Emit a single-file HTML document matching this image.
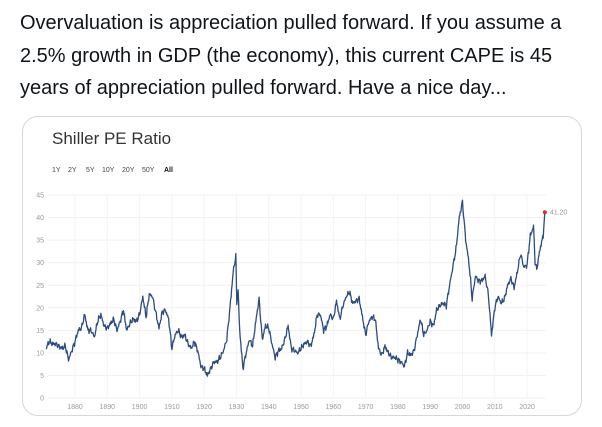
<!DOCTYPE html>
<html><head><meta charset="utf-8"><style>
body{margin:0;background:#fff;width:602px;height:427px;overflow:hidden;font-family:"Liberation Sans",sans-serif;position:relative}
.tw{position:absolute;left:20px;top:7px;width:560px;font-size:20px;line-height:32.5px;color:#0f1419}
.card{position:absolute;left:22px;top:116px;width:558px;height:298px;border:1px solid #cfd9de;border-radius:16px}
.t{position:absolute;left:52px;top:129px;font-size:17px;color:#333}
.b{position:absolute;top:167px;font-size:7px;color:#444}
svg{position:absolute;left:0;top:0}
</style></head><body>
<div class="tw">Overvaluation is appreciation pulled forward. If you assume a 2.5% growth in GDP (the economy), this current CAPE is 45 years of appreciation pulled forward. Have a nice day...</div>
<div class="card"></div>
<div class="t">Shiller PE Ratio</div>
<span class="b" style="left:52px">1Y</span><span class="b" style="left:68px">2Y</span><span class="b" style="left:86px">5Y</span><span class="b" style="left:102px">10Y</span><span class="b" style="left:122px">20Y</span><span class="b" style="left:142px">50Y</span><span class="b" style="left:164px;font-weight:bold;color:#111">All</span>
<svg id="s" width="602" height="427" font-family="Liberation Sans, sans-serif"></svg>
<script>
var d=[1871,11,1872,12.5,1873,12,1874,12,1875,11.5,1876,11,1877,11.5,1878,8.5,1879,10.5,1880,12.5,1881,15,1882,15.5,1883,18.5,1884,15,1885,15,1886,13.5,1887,17,1888,18.5,1889,16,1890,15.5,1891,16.5,1892,17.5,1893,15,1894,17,1895,19.5,1896,15,1897,16.5,1898,17.5,1899,17,1900,18.5,1901,22.5,1902,18,1903,23,1904,22.5,1905,19,1906,15.5,1907,19,1908,19.5,1909,17.5,1910,11,1911,14,1912,15,1913,13.5,1914,14,1915,12,1916,11,1917,12.5,1918,10.5,1919,7,1920,6.5,1921,5,1922,6.5,1923,8,1924,8,1925,9,1926,10.5,1927,13,1928,20,1929,28,1929.8,31.5,1930.1,21,1930.5,24,1931,15,1932,6.5,1933,10,1934,13,1935,11.5,1936,17,1937,22,1938,13,1939,16,1940,15.5,1941,12,1942,9,1943,10.5,1944,11,1945,13,1946,16,1947,11,1948,10.5,1949,10,1950,11,1951,12,1952,12.5,1953,11.5,1954,14,1955,18.5,1956,18.5,1957,15,1958,16,1959,18.5,1960,17.5,1961,21.5,1962,17.5,1963,20.5,1964,22.5,1965,23.5,1966,21,1967,21.5,1968,22,1969,18,1970,14,1971,17,1972,18,1973,17.5,1974,11,1975,9.5,1976,11.5,1977,10,1978,9,1979,9,1980,8.5,1981,8,1982,7,1983,10,1984,9.5,1985,10.5,1986,14,1987,17.5,1988,14,1989,15,1990,17,1991,16,1992,19.5,1993,20.5,1994,21,1995,20.5,1996,25,1997,29,1998,33,1999,40,2000,43.5,2001,35,2002,30,2003,22,2004,27,2005,26,2006,26,2007,27,2008,23,2009,14,2010,20,2011,22.5,2012,21,2013,22,2014,25,2015,26.5,2016,24.5,2017,28,2018,32,2019,29,2020,29.5,2021,36,2022,38,2022.5,30,2023,28.5,2024,33,2025,36,2025.5,41.2];
function X(y){return 75+(y-1880)*3.229}function Y(v){return 398-v*4.51}
var h='';
for(var v=0;v<=45;v+=5){h+='<line x1="48" x2="546" y1="'+Y(v)+'" y2="'+Y(v)+'" stroke="#f1f1f1"/><text x="44" y="'+(Y(v)+2.5)+'" font-size="7" fill="#999" text-anchor="end">'+v+'</text>';}
for(var y=1880;y<=2020;y+=10){h+='<line x1="'+X(y)+'" x2="'+X(y)+'" y1="'+Y(45)+'" y2="'+Y(0)+'" stroke="#f3f3f3"/><text x="'+X(y)+'" y="409" font-size="7" fill="#999" text-anchor="middle">'+y+'</text>';}
var p=[],k=0;
for(var i=0;i<d.length-2;i+=2){var y0=d[i],v0=d[i+1],y1=d[i+2],v1=d[i+3];var n=Math.max(2,Math.round((y1-y0)*6));for(var j=0;j<n;j++){var t=j/n,v=v0+(v1-v0)*t;k++;v+=Math.sin(k*2.3)*0.5*Math.cos(k*0.7)+Math.sin(k*5.1)*0.3;p.push(X(y0+(y1-y0)*t).toFixed(1)+','+Y(v).toFixed(1));}}
p.push(X(2025.5)+','+Y(41.2));
h+='<polyline points="'+p.join(' ')+'" fill="none" stroke="#2b4c80" stroke-width="1.3" stroke-linejoin="round"/>';
h+='<circle cx="'+X(2025.5)+'" cy="'+Y(41.2)+'" r="2" fill="#e8232a"/><text x="'+(X(2025.5)+5)+'" y="'+(Y(41.2)+2.5)+'" font-size="7" fill="#999">41.20</text>';
document.getElementById('s').innerHTML=h;
</script>
</body></html>
